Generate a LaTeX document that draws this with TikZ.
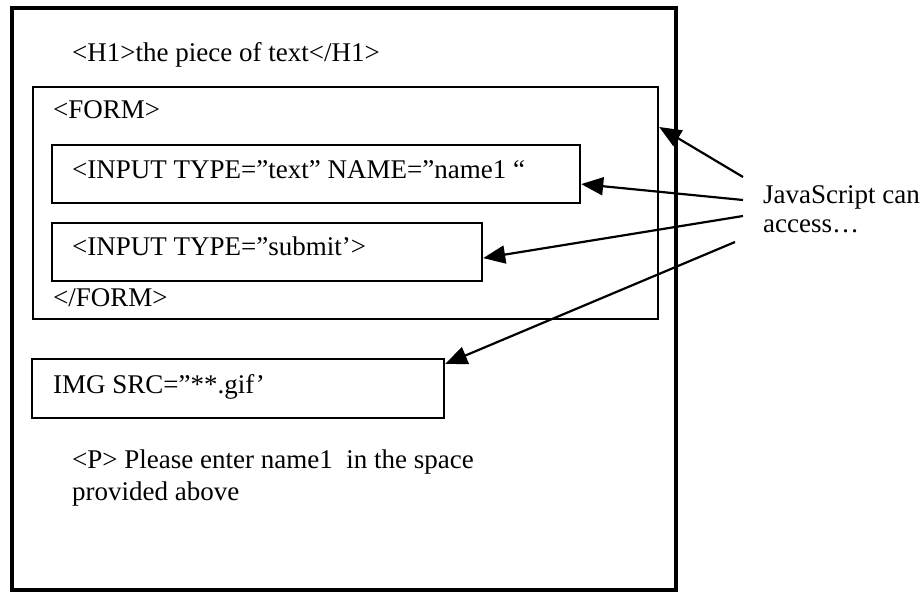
\documentclass[tikz,border=0pt]{standalone}
\usepackage{fontspec}
\setmainfont{Liberation Serif}
\usetikzlibrary{arrows.meta}

\tikzset{
  frame/.style={draw, line width=3.2pt},
  box/.style={draw, line width=2.2pt, anchor=north west, inner sep=0pt},
  code/.style={anchor=base west, inner sep=0pt, font=\fontsize{27}{32}\selectfont},
  access/.style={line width=2.2pt, -{Triangle[length=22pt,width=18pt]}},
}

\begin{document}
\begin{tikzpicture}[x=1pt, y=-1pt]
  \useasboundingbox (0,0) rectangle (922,594);

  % page of HTML
  \draw[frame] (12,8) rectangle (676,590);

  % boxes
  \node[box, minimum width=625pt, minimum height=232pt] (form) at (32,86) {};
  \node[box, minimum width=528pt, minimum height=58pt] (input) at (51,144) {};
  \node[box, minimum width=430pt, minimum height=58pt] (submit) at (51,222) {};
  \node[box, minimum width=412pt, minimum height=59pt] (img) at (31,358) {};

  % HTML code lines
  \node[code] (h1) at (72,62) {<H1>the piece of text</H1>};
  \node[code] (formopen) at (53,118) {<FORM>};
  \node[code] (inputtxt) at (72,178) {<INPUT TYPE=”text” NAME=”name1 “};
  \node[code] (submittxt) at (72,255) {<INPUT TYPE=”submit’>};
  \node[code] (formclose) at (53,306) {</FORM>};
  \node[code] (imgtxt) at (53,393) {IMG SRC=”**.gif’};
  \node[code] (para1) at (72,468) {<P> Please enter name1 \ in the space};
  \node[code] (para2) at (72,500) {provided above};

  % label
  \node[code] (js1) at (763,203) {JavaScript can};
  \node[code] (js2) at (763,232) {access…};

  % arrow starts
  \coordinate (s1) at (743,177);
  \coordinate (s2) at (743,200);
  \coordinate (s3) at (743,216);
  \coordinate (s4) at (735,242);

  \draw[access] (s1) -- ([yshift=-41pt]form.north east);
  \draw[access] (s2) -- ([yshift=-10pt]input.east);
  \draw[access] (s3) -- ([yshift=-6pt]submit.east);
  \draw[access] (s4) -- ([yshift=-6pt]img.north east);
\end{tikzpicture}
\end{document}
